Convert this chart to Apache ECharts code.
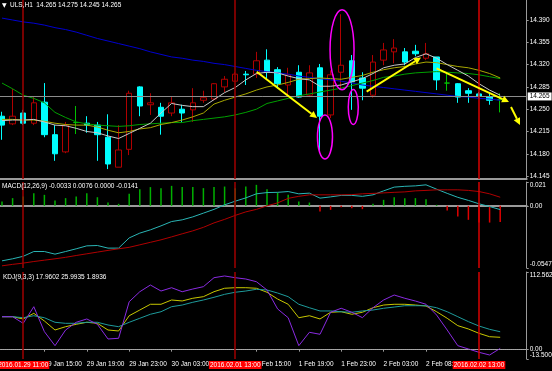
<!DOCTYPE html>
<html><head><meta charset="utf-8">
<script src="https://cdn.jsdelivr.net/npm/echarts@6/dist/echarts.min.js"></script>
<style>html,body{margin:0;padding:0;background:#000;}#c{width:552px;height:371px;}</style>
</head><body><div id="c"></div>
<script>
// ---------- data ----------
const categories = ['29 Jan 09:00','29 Jan 10:00','29 Jan 11:00','29 Jan 14:00','29 Jan 15:00','29 Jan 16:00','29 Jan 17:00','29 Jan 18:00','29 Jan 19:00','29 Jan 20:00',
 '29 Jan 21:00','29 Jan 22:00','29 Jan 23:00','30 Jan 00:00','30 Jan 01:00','30 Jan 02:00','30 Jan 03:00','30 Jan 04:00','30 Jan 05:00','30 Jan 06:00',
 '1 Feb 11:00','1 Feb 12:00','1 Feb 13:00','1 Feb 14:00','1 Feb 15:00','1 Feb 16:00','1 Feb 17:00','1 Feb 18:00','1 Feb 19:00','1 Feb 20:00',
 '1 Feb 21:00','1 Feb 22:00','1 Feb 23:00','2 Feb 00:00','2 Feb 01:00','2 Feb 02:00','2 Feb 03:00','2 Feb 04:00','2 Feb 05:00','2 Feb 06:00',
 '2 Feb 08:00','2 Feb 09:00','2 Feb 10:00','2 Feb 11:00','2 Feb 12:00','2 Feb 13:00','2 Feb 14:00','2 Feb 15:00'];
const opens  = [14.239,14.227,14.244,14.228,14.261,14.210,14.183,14.229,14.228,14.225,14.206,14.159,14.187,14.285,14.257,14.253,14.244,14.250,14.249,14.264,
 14.266,14.285,14.294,14.305,14.305,14.327,14.312,14.288,14.308,14.272,14.315,14.241,14.308,14.326,14.299,14.272,14.327,14.340,14.340,14.341,
 14.330,14.332,14.291,14.290,14.279,14.274,14.269,14.265];
const closes = [14.225,14.239,14.228,14.260,14.210,14.180,14.225,14.229,14.225,14.210,14.164,14.186,14.275,14.255,14.260,14.239,14.260,14.244,14.260,14.268,
 14.290,14.297,14.305,14.304,14.326,14.308,14.290,14.304,14.269,14.307,14.239,14.304,14.319,14.293,14.283,14.324,14.343,14.346,14.324,14.337,
 14.337,14.296,14.291,14.269,14.275,14.270,14.264,14.265];
const lows   = [14.202,14.225,14.225,14.225,14.206,14.169,14.181,14.211,14.213,14.169,14.156,14.159,14.178,14.239,14.241,14.210,14.239,14.230,14.230,14.260,
 14.264,14.277,14.293,14.288,14.299,14.296,14.283,14.272,14.268,14.269,14.186,14.236,14.283,14.249,14.264,14.268,14.319,14.322,14.319,14.333,
 14.327,14.280,14.279,14.260,14.260,14.268,14.257,14.245];
const highs  = [14.246,14.282,14.249,14.269,14.291,14.225,14.230,14.255,14.239,14.230,14.242,14.225,14.279,14.286,14.275,14.260,14.269,14.257,14.283,14.279,
 14.291,14.302,14.308,14.310,14.340,14.344,14.316,14.315,14.319,14.319,14.321,14.311,14.399,14.335,14.308,14.335,14.354,14.360,14.346,14.351,
 14.354,14.332,14.308,14.291,14.283,14.277,14.275,14.275];
const maFast = [14.232,14.233,14.233,14.234,14.230,14.225,14.224,14.220,14.215,14.213,14.208,14.204,14.212,14.220,14.228,14.244,14.259,14.256,14.254,14.254,
 14.265,14.276,14.284,14.296,14.306,14.308,14.307,14.302,14.298,14.296,14.286,14.286,14.288,14.293,14.298,14.306,14.315,14.319,14.321,14.331,
 14.337,14.330,14.320,14.311,14.302,14.290,14.280,14.272];
const maMid  = [14.234,14.234,14.233,14.233,14.231,14.228,14.226,14.225,14.225,14.222,14.217,14.213,14.215,14.219,14.221,14.226,14.229,14.233,14.238,14.244,
 14.258,14.264,14.269,14.274,14.280,14.285,14.288,14.292,14.297,14.298,14.299,14.298,14.297,14.300,14.303,14.308,14.312,14.315,14.317,14.321,
 14.324,14.323,14.320,14.317,14.315,14.311,14.306,14.299];
const maSlow = [14.291,14.282,14.272,14.267,14.260,14.245,14.237,14.230,14.227,14.225,14.224,14.223,14.224,14.226,14.227,14.228,14.229,14.229,14.232,14.234,
 14.236,14.238,14.241,14.245,14.250,14.259,14.263,14.267,14.271,14.274,14.277,14.280,14.283,14.287,14.291,14.295,14.300,14.302,14.305,14.307,
 14.308,14.309,14.308,14.307,14.306,14.304,14.301,14.298];
const maLong = [14.393,14.390,14.387,14.385,14.382,14.378,14.375,14.371,14.366,14.361,14.357,14.353,14.349,14.345,14.340,14.336,14.332,14.330,14.327,14.325,
 14.322,14.320,14.317,14.314,14.311,14.309,14.307,14.305,14.302,14.300,14.298,14.296,14.294,14.291,14.288,14.286,14.284,14.282,14.280,14.278,
 14.276,14.274,14.272,14.270,14.269,14.267,14.266,14.264];
const macdLine = [-0.0484,-0.0466,-0.0444,-0.0402,-0.0402,-0.0425,-0.0402,-0.0378,-0.0352,-0.0349,-0.0372,-0.0372,-0.0282,-0.0240,-0.0211,-0.0176,-0.0138,-0.0123,-0.0097,-0.0064,
 -0.0031,0.0009,0.0041,0.0070,0.0106,0.0117,0.0119,0.0126,0.0106,0.0112,0.0068,0.0079,0.0092,0.0092,0.0084,0.0097,0.0132,0.0165,0.0172,0.0176,
 0.0185,0.0147,0.0110,0.0075,0.0048,0.0018,-0.0006,-0.0033];
const signalLine = [-0.0528,-0.0515,-0.0504,-0.0490,-0.0478,-0.0466,-0.0453,-0.0437,-0.0422,-0.0407,-0.0392,-0.0378,-0.0365,-0.0343,-0.0321,-0.0299,-0.0273,-0.0246,-0.0220,-0.0189,
 -0.0150,-0.0119,-0.0084,-0.0053,-0.0031,0.0000,0.0026,0.0066,0.0084,0.0097,0.0097,0.0097,0.0097,0.0099,0.0106,0.0110,0.0114,0.0119,0.0123,0.0132,
 0.0136,0.0141,0.0141,0.0141,0.0136,0.0126,0.0106,0.0076];
const macdHist = [0.0038,0.0068,0.0082,0.0112,0.0097,0.0047,0.0068,0.0082,0.0112,0.0076,0.0029,0.0018,0.0106,0.0147,0.0165,0.0156,0.0176,0.0165,0.0165,0.0156,
 0.0165,0.0170,0.0156,0.0170,0.0185,0.0147,0.0117,0.0097,0.0038,0.0029,-0.0050,-0.0035,-0.0012,-0.0020,-0.0029,0.0018,0.0053,0.0076,0.0068,0.0068,
 0.0059,0.0009,-0.0041,-0.0094,-0.0123,-0.0147,-0.0147,-0.0141];
const kLine = [47.8,47.8,44.5,52.7,41.6,28.5,33.3,36.8,39.7,38.2,28.5,27.1,49.2,57.5,65.8,65.8,72.0,70.6,74.5,76.8,
 84.0,89.0,89.8,89.8,89.0,83.2,73.4,65.8,46.3,49.2,44.5,54.2,55.0,51.3,54.2,60.8,64.7,65.8,65.8,64.7,
 63.3,55.0,45.5,34.8,30.0,23.7,18.8,17.9602];
const dLine = [47.8,47.8,46.3,49.2,46.3,39.7,38.2,38.2,39.7,39.7,35.8,33.3,39.7,45.5,51.3,55.0,62.3,64.7,68.7,72.0,
 75.9,80.2,83.2,85.0,87.5,86.5,82.1,76.8,65.8,60.8,56.1,56.1,55.0,54.2,56.1,57.5,60.0,61.8,63.7,63.7,
 63.7,60.8,55.0,47.8,40.6,34.3,29.5,25.9935];
const jLine = [47.8,47.8,38.2,62.3,26.1,5.8,28.5,39.7,44.5,36.8,15.5,16.5,69.5,84.0,93.7,85.0,89.8,84.0,87.9,91.3,
 104.3,106.8,104.3,102.4,98.5,86.5,59.0,46.3,5.8,25.2,22.3,54.2,60.0,54.2,46.4,60.8,72.0,79.2,74.5,70.5,
 65.8,50.2,28.5,5.8,1.0,-3.8,-7.7,1.8936];
const priceTicks = [14.145,14.180,14.215,14.250,14.285,14.320,14.355,14.390];
const macdTicks = [-0.0547,0,0.021];
const macdTickLabels = ['-0.0547','0.00','0.021'];
const kdjMin = -13.5009, kdjMax = 112.5629;
const kdjTicks = [0,112.5629];
const kdjTickLabels = ['0.00','112.5629'];
const kdjMinLabel = '-13.5009';
const timeLabelIdx = [4,8,12,16,24,28,32,36,40];
const vLineIdx = [2,22,45];
const vLineLabels = ['2016.01.29 11:00','2016.02.01 13:00','2016.02.02 13:00'];
const bidPrice = 14.265;
const headerText = 'ULS,H1  14.265 14.275 14.245 14.265';
const macdTitle = 'MACD(12,26,9) -0.0033 0.0076 0.0000 -0.0141';
const kdjTitle = 'KDJ(9,3,3) 17.9602 25.9935 1.8936';
// drawn annotations: [startIndex, startPrice, endIndex, endPrice]
const arrowDefs = [[24.03,14.3088,29.72,14.2362],[34.4,14.2775,39.53,14.3311],[41.0,14.3142,47.83,14.2613],[48.02,14.2534,48.87,14.2252]];
const ellipseCenters = [[32.08,14.3434],[30.47,14.2063],[33.14,14.2534]];
const ellipseRadiiPx = [[12,40],[7.5,22],[5,17.5]];

// ---------- chart ----------
const FONT = 'Liberation Sans, Arial, sans-serif';
const FS = 6.5;
const axisCats = categories.concat(['', '']); // chart shift space
const candleData = opens.map((o, i) => [o, closes[i], lows[i], highs[i]]);
const grids = [
  {left: -3.3, width: 530, top: 0, height: 179, outerBoundsMode: 'none', containLabel: false},
  {left: -3.3, width: 530, top: 182, height: 86, outerBoundsMode: 'none', containLabel: false},
  {left: -3.3, width: 530, top: 272, height: 87, outerBoundsMode: 'none', containLabel: false}
];
const axisGray = '#9a9a9a';
function xAxisFor(g, showLabels) {
  return {
    type: 'category', gridIndex: g, data: axisCats, boundaryGap: true,
    axisLine: {show: true, lineStyle: {color: axisGray, width: g === 2 ? 1 : 2}},
    axisTick: {show: showLabels, alignWithLabel: true, length: 2, interval: (i) => timeLabelIdx.includes(i), lineStyle: {color: axisGray}},
    axisLabel: {show: showLabels, interval: (i) => timeLabelIdx.includes(i), align: 'left', margin: 2, color: '#ffffff', fontSize: FS, fontFamily: FONT},
    splitLine: {show: false}
  };
}
function lookupLabel(vals, labels) {
  return (v) => { let k = 0, best = 1e9; vals.forEach((t, j) => { const d = Math.abs(t - v); if (d < best) { best = d; k = j; } }); return labels[k]; };
}
const labelBase = {color: '#fff', fontSize: FS, fontFamily: FONT, margin: 3, showMinLabel: true, showMaxLabel: true, hideOverlap: false};
const yAxes = [
  {type: 'value', gridIndex: 0, position: 'right', min: 14.14044, max: 14.42139,
   axisLine: {show: true, lineStyle: {color: axisGray}},
   axisTick: {show: true, length: 2, customValues: priceTicks, lineStyle: {color: axisGray}},
   axisLabel: Object.assign({customValues: priceTicks, formatter: (v) => v.toFixed(3)}, labelBase),
   splitLine: {show: false}},
  {type: 'value', gridIndex: 1, position: 'right', min: -0.0547, max: 0.021,
   axisLine: {show: true, lineStyle: {color: axisGray}},
   axisTick: {show: true, length: 2, customValues: macdTicks, lineStyle: {color: axisGray}},
   axisLabel: Object.assign({customValues: macdTicks, formatter: lookupLabel(macdTicks, macdTickLabels),
     verticalAlignMaxLabel: 'top', verticalAlignMinLabel: 'bottom'}, labelBase),
   splitLine: {show: false}},
  {type: 'value', gridIndex: 2, position: 'right', min: kdjMin, max: kdjMax,
   axisLine: {show: true, lineStyle: {color: axisGray}},
   axisTick: {show: true, length: 2, customValues: kdjTicks.concat([kdjMin]), lineStyle: {color: axisGray}},
   axisLabel: Object.assign({customValues: kdjTicks, formatter: lookupLabel(kdjTicks, kdjTickLabels),
     verticalAlignMaxLabel: 'top'}, labelBase),
   splitLine: {show: false}},
  {type: 'value', gridIndex: 2, position: 'right', min: kdjMin, max: kdjMax,
   axisLine: {show: false}, axisTick: {show: false},
   axisLabel: Object.assign({customValues: [kdjMin], formatter: () => kdjMinLabel,
     verticalAlignMaxLabel: 'bottom', verticalAlignMinLabel: 'bottom'}, labelBase),
   splitLine: {show: false}}
];
function vLines(withLabels) {
  return vLineIdx.map((idx, j) => ({
    xAxis: idx,
    lineStyle: {color: j === 2 ? '#d80000' : '#a00000', width: 1.5, type: 'solid'},
    label: withLabels ? {show: true, position: 'start', formatter: vLineLabels[j], backgroundColor: '#ff0000', color: '#ffffff',
      fontSize: FS, fontFamily: FONT, padding: [1, 1, 0, 1], distance: 2} : {show: false}
  }));
}
function lineSeries(data, color, xi, z) {
  return {type: 'line', data, xAxisIndex: xi, yAxisIndex: xi, showSymbol: false, symbol: 'none', z: z || 3,
    lineStyle: {color, width: 1}, itemStyle: {color}, emphasis: {disabled: true}, silent: true};
}
const chart = echarts.init(document.getElementById('c'), null, {renderer: 'canvas'});
chart.setOption({
  backgroundColor: '#000000',
  animation: false,
  title: [
    {text: '\u25BC', left: 2, top: 2, padding: 0, textStyle: {color: '#fff', fontSize: 6, fontWeight: 'normal', fontFamily: 'DejaVu Sans'}},
    {text: headerText, left: 10, top: 2, padding: 0, textStyle: {color: '#fff', fontSize: FS, fontWeight: 'normal', fontFamily: FONT}},
    {text: macdTitle, left: 2, top: 183, padding: 0, textStyle: {color: '#fff', fontSize: FS, fontWeight: 'normal', fontFamily: FONT}},
    {text: kdjTitle, left: 3, top: 274, padding: 0, textStyle: {color: '#fff', fontSize: FS, fontWeight: 'normal', fontFamily: FONT}}
  ],
  grid: grids,
  xAxis: [xAxisFor(0, false), xAxisFor(1, false), xAxisFor(2, true)],
  yAxis: yAxes,
  series: [
    {type: 'candlestick', xAxisIndex: 0, yAxisIndex: 0, data: candleData, barWidth: 6, z: 2, silent: true,
     itemStyle: {color: '#000000', color0: '#00ffff', borderColor: '#b00000', borderColor0: '#00ffff', borderColorDoji: '#00c000', borderWidth: 1},
     markLine: {symbol: 'none', silent: true, animation: false,
       data: [{yAxis: bidPrice, lineStyle: {color: '#8c8c8c', width: 1, type: 'solid'},
               label: {show: true, position: 'end', formatter: bidPrice.toFixed(3), backgroundColor: '#ffffff', color: '#000000',
                       fontSize: FS, fontFamily: FONT, padding: [1, 2, 0, 2], distance: 1}}].concat(vLines(false))}},
    lineSeries(maLong, '#0000d0', 0),
    lineSeries(maSlow, '#00a000', 0),
    lineSeries(maMid, '#a8a800', 0),
    lineSeries(maFast, '#c8c8c8', 0),
    {type: 'bar', xAxisIndex: 1, yAxisIndex: 1, data: macdHist, barWidth: 1.5, silent: true,
     itemStyle: {color: (p) => p.value >= 0 ? '#00b000' : '#e00000'},
     markLine: {symbol: 'none', silent: true, animation: false, data: vLines(false)}},
    lineSeries(macdLine, '#2ab5b5', 1),
    lineSeries(signalLine, '#b00000', 1),
    Object.assign(lineSeries(kLine, '#c8c800', 2), {
      markLine: {symbol: 'none', silent: true, animation: false,
        data: [{yAxis: 0, lineStyle: {color: '#b0b0b0', width: 1, type: 'dotted'}, label: {show: false}}].concat(vLines(true))}}),
    lineSeries(dLine, '#1e9b9b', 2),
    lineSeries(jLine, '#8a2be2', 2)
  ]
});
// annotations anchored to data coordinates
const p0 = chart.convertToPixel({gridIndex: 0}, [0, 14.3]);
const p1 = chart.convertToPixel({gridIndex: 0}, [1, 14.3]);
const xp = (i) => p0[0] + (p1[0] - p0[0]) * i;
const yp = (v) => chart.convertToPixel({gridIndex: 0}, [0, v])[1];
const gfx = [];
arrowDefs.forEach((a) => {
  const x1 = xp(a[0]), y1 = yp(a[1]), x2 = xp(a[2]), y2 = yp(a[3]);
  const dx = x2 - x1, dy = y2 - y1, L = Math.hypot(dx, dy), ux = dx / L, uy = dy / L;
  const hl = 7, hw = 3.5, bx = x2 - ux * hl, by = y2 - uy * hl;
  gfx.push({type: 'line', silent: true, z: 100, shape: {x1, y1, x2: bx, y2: by}, style: {stroke: '#ffff00', lineWidth: 2}});
  gfx.push({type: 'polygon', silent: true, z: 100, shape: {points: [[x2, y2], [bx - uy * hw, by + ux * hw], [bx + uy * hw, by - ux * hw]]}, style: {fill: '#ffff00'}});
});
ellipseCenters.forEach((c, j) => {
  gfx.push({type: 'ellipse', silent: true, z: 100, shape: {cx: xp(c[0]), cy: yp(c[1]), rx: ellipseRadiiPx[j][0], ry: ellipseRadiiPx[j][1]},
    style: {fill: 'none', stroke: '#ff00ff', lineWidth: 1.5}});
});
chart.setOption({graphic: gfx});
</script>
</body></html>
